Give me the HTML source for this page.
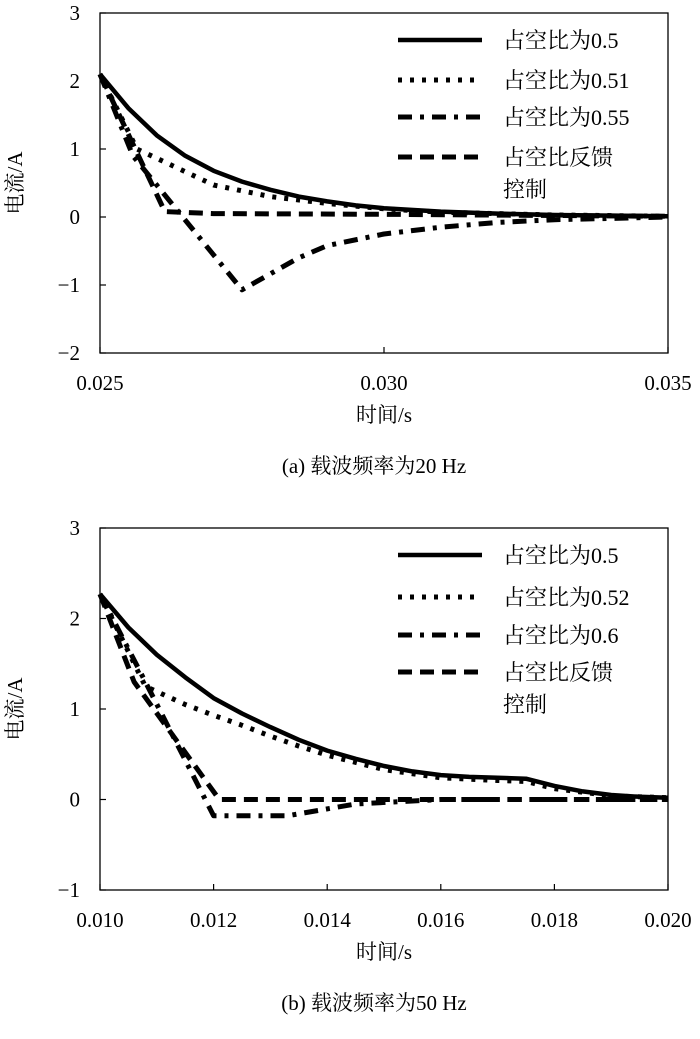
<!DOCTYPE html>
<html><head><meta charset="utf-8"><style>
html,body{margin:0;padding:0;background:#fff;}
svg text{font-family:"Liberation Serif","Noto Serif CJK SC",serif;fill:#000;}
</style></head><body>
<svg width="700" height="1034" xmlns="http://www.w3.org/2000/svg">
<g id="c1"></g>
<g id="c2"></g>
</svg>
<script>
// Chart (a)
const aTicksX = [0.025, 0.030, 0.035];
const aTickLabelsX = ["0.025","0.030","0.035"];
const aTicksY = [3,2,1,0,-1,-2];
const aSeriesNames = ["占空比为0.5","占空比为0.51","占空比为0.55","占空比反馈"];
const aSolidX = [0.025,0.0255,0.026,0.0265,0.027,0.0275,0.028,0.0285,0.029,0.0295,0.030,0.031,0.032,0.033,0.034,0.035];
const aSolidY = [2.1,1.6,1.2,0.9,0.68,0.52,0.4,0.3,0.23,0.17,0.13,0.08,0.05,0.03,0.02,0.01];
const aDotX = [0.025,0.02565,0.027,0.028,0.029,0.030,0.031,0.032,0.033,0.034,0.035];
const aDotY = [2.1,1.0,0.47,0.3,0.2,0.12,0.07,0.05,0.03,0.02,0.01];
const aDashDotX = [0.025,0.02558,0.0275,0.0285,0.029,0.030,0.031,0.032,0.033,0.034,0.035];
const aDashDotY = [2.1,0.9,-1.07,-0.6,-0.42,-0.25,-0.15,-0.08,-0.04,-0.02,0.0];
const aDashX = [0.025,0.02614,0.027,0.030,0.035];
const aDashY = [2.1,0.08,0.05,0.04,0.01];
// Chart (b)
const bTicksX = [0.010,0.012,0.014,0.016,0.018,0.020];
const bTickLabelsX = ["0.010","0.012","0.014","0.016","0.018","0.020"];
const bTicksY = [3,2,1,0,-1];
const bSeriesNames = ["占空比为0.5","占空比为0.52","占空比为0.6","占空比反馈"];
const bSolidX = [0.010,0.0105,0.011,0.0115,0.012,0.0125,0.013,0.0135,0.014,0.0145,0.015,0.0155,0.016,0.0165,0.017,0.0175,0.018,0.0185,0.019,0.0195,0.020];
const bSolidY = [2.27,1.9,1.6,1.35,1.12,0.95,0.8,0.66,0.54,0.45,0.37,0.31,0.27,0.25,0.24,0.23,0.15,0.09,0.05,0.03,0.02];
const bDotX = [0.010,0.0108,0.0115,0.012,0.0125,0.013,0.0135,0.014,0.015,0.016,0.017,0.0175,0.018,0.019,0.020];
const bDotY = [2.27,1.25,1.05,0.93,0.82,0.7,0.59,0.49,0.33,0.24,0.21,0.2,0.12,0.04,0.02];
const bDashDotX = [0.010,0.0108,0.012,0.0133,0.0145,0.016,0.020];
const bDashDotY = [2.27,1.3,-0.18,-0.18,-0.05,0.0,0.0];
const bDashX = [0.010,0.0106,0.0121,0.014,0.020];
const bDashY = [2.27,1.3,0.0,0.0,0.0];

const NS="http://www.w3.org/2000/svg";
function mk(parent,tag,attrs){const e=document.createElementNS(NS,tag);for(const k in attrs)e.setAttribute(k,attrs[k]);parent.appendChild(e);return e;}
const styles=[{d:"",w:4.5},{d:"4 8",w:5},{d:"14 8 4 8",w:5},{d:"14 8",w:5}];

function chart(g,o){
  const sx=v=>o.x0+(v-o.xmin)/(o.xmax-o.xmin)*(o.x1-o.x0);
  const sy=v=>o.y0+(o.ymax-v)/(o.ymax-o.ymin)*(o.y1-o.y0);
  const box=mk(g,"rect",{x:o.x0,y:o.y0,width:o.x1-o.x0,height:o.y1-o.y0,fill:"none",stroke:"#000","stroke-width":1.3});
  
  
  o.ticksX.forEach((t,i)=>{
    const x=sx(t);
    mk(g,"line",{x1:x,x2:x,y1:o.y1,y2:o.y1-6,stroke:"#000","stroke-width":1.2});
    const tx=mk(g,"text",{x:x,y:o.y1+37,"text-anchor":"middle","font-size":21});
    tx.textContent=o.labelsX[i];
    
    
  });
  o.ticksY.forEach(t=>{
    const y=sy(t);
    mk(g,"line",{x1:o.x0,x2:o.x0+6,y1:y,y2:y,stroke:"#000","stroke-width":1.2});
    const tx=mk(g,"text",{x:o.x0-20,y:y+7,"text-anchor":"end","font-size":21});
    tx.textContent=t<0?"−"+(-t):String(t);
    
    
  });
  const xt=mk(g,"text",{x:(o.x0+o.x1)/2,y:o.y1+69,"text-anchor":"middle","font-size":21});
  xt.textContent="时间/s";
  
  
  const yc=(o.y0+o.y1)/2;
  const yt=mk(g,"text",{x:22,y:yc,"text-anchor":"middle","font-size":21,transform:`rotate(-90 22 ${yc})`});
  yt.textContent="电流/A";
  
  
  const cap=mk(g,"text",{x:(o.x0+o.x1)/2-10,y:o.y1+120,"text-anchor":"middle","font-size":21});
  cap.textContent=o.caption;
  
  
  const order=[3,2,1,0];
  order.forEach(i=>{
    const s=o.series[i];
    const pts=s.x.map((v,j)=>sx(v).toFixed(1)+","+sy(s.y[j]).toFixed(1)).join(" ");
    const p=mk(g,"polyline",{points:pts,fill:"none",stroke:"#000","stroke-width":styles[i].w,"stroke-dasharray":styles[i].d,"stroke-linejoin":"round"});
    
    
  });
  o.names.forEach((n,i)=>{
    const y=o.legY[i];
    const l=mk(g,"line",{x1:398,x2:482,y1:y,y2:y,stroke:"#000","stroke-width":styles[i].w,"stroke-dasharray":styles[i].d});
    
    
    const t=mk(g,"text",{x:503,y:y+8,"font-size":22});
    t.textContent=n;
    
    
  });
  const t2=mk(g,"text",{x:503,y:o.legY[3]+40,"font-size":22});
  t2.textContent="控制";
  
  
}
chart(document.getElementById("c1"),{x0:100,x1:668,y0:13,y1:353,xmin:0.025,xmax:0.035,ymin:-2,ymax:3,
  ticksX:aTicksX,labelsX:aTickLabelsX,ticksY:aTicksY,names:aSeriesNames,caption:"(a) 载波频率为20 Hz",
  legY:[40,80,117,157],
  series:[{x:aSolidX,y:aSolidY},{x:aDotX,y:aDotY},{x:aDashDotX,y:aDashDotY},{x:aDashX,y:aDashY}]});
chart(document.getElementById("c2"),{x0:100,x1:668,y0:528,y1:890,xmin:0.010,xmax:0.020,ymin:-1,ymax:3,
  ticksX:bTicksX,labelsX:bTickLabelsX,ticksY:bTicksY,names:bSeriesNames,caption:"(b) 载波频率为50 Hz",
  legY:[555,597,635,672],
  series:[{x:bSolidX,y:bSolidY},{x:bDotX,y:bDotY},{x:bDashDotX,y:bDashDotY},{x:bDashX,y:bDashY}]});
</script>
</body></html>
